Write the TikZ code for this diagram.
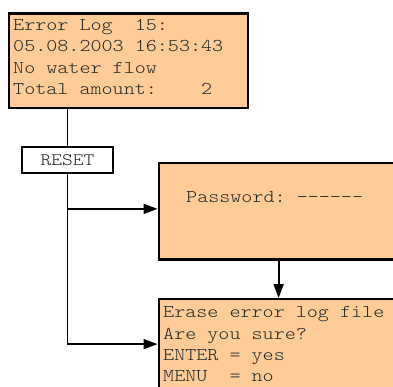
\documentclass[tikz,border=0pt]{standalone}
\usepackage{fontspec}
\setmonofont[FakeStretch=1.17]{Latin Modern Mono Light}
\usetikzlibrary{arrows.meta}
\definecolor{peach}{HTML}{FFCC99}
\definecolor{ink}{HTML}{262626}
\tikzset{
  box/.style={draw=black, line width=2.2pt, fill=peach, inner sep=0pt},
  resetbox/.style={draw=black, line width=2pt, fill=white, inner sep=0pt, minimum width=91pt, minimum height=26pt, font=\fontsize{17.5}{21}\ttfamily, text=ink},
  txt/.style={inner sep=0pt, anchor=base west, font=\fontsize{18}{21}\ttfamily, text=ink},
  conn/.style={line width=1.8pt, draw=black},
  arr/.style={conn, -{Triangle[length=14pt,width=10pt]}}
}
\begin{document}
\begin{tikzpicture}[x=1pt,y=-1pt]
\useasboundingbox (0,0) rectangle (393,387);
% boxes
\node[box, anchor=north west, minimum width=239.5pt, minimum height=94.5pt] (log) at (7.5,12.5) {};
\node[box, anchor=north west, minimum width=240pt, minimum height=96pt] (pw) at (157.5,162.3) {};
\node[box, anchor=north west, minimum width=240pt, minimum height=90pt] (erase) at (157.5,298) {};
\node[resetbox] (reset) at (67.5,160) {RESET};
% texts
\node[txt] (l1) at (13,30.7) {Error Log\ \ 15:};
\node[txt] (l2) at (13,52.0) {05.08.2003 16:53:43};
\node[txt] (l3) at (13,73.2) {No water flow};
\node[txt] (l4) at (13,94.3) {Total amount:\ \ \ \ 2};
\node[txt] (p1) at (186,203) {Password: ------};
\node[txt] (e1) at (163,317.7) {Erase error log file};
\node[txt] (e2) at (163,339.5) {Are you sure?};
\node[txt] (e3) at (163,360.5) {ENTER = yes};
\node[txt] (e4) at (163,381.2) {MENU\ \ = no};
% connectors
\draw[conn] (log.south -| reset.north) -- (reset.north);
\draw[arr] (reset.south) |- ([yshift=2.5pt]pw.west);
\draw[arr] (reset.south) |- (erase.west);
\draw[arr] (pw.south) -- (erase.north);
\end{tikzpicture}
\end{document}
